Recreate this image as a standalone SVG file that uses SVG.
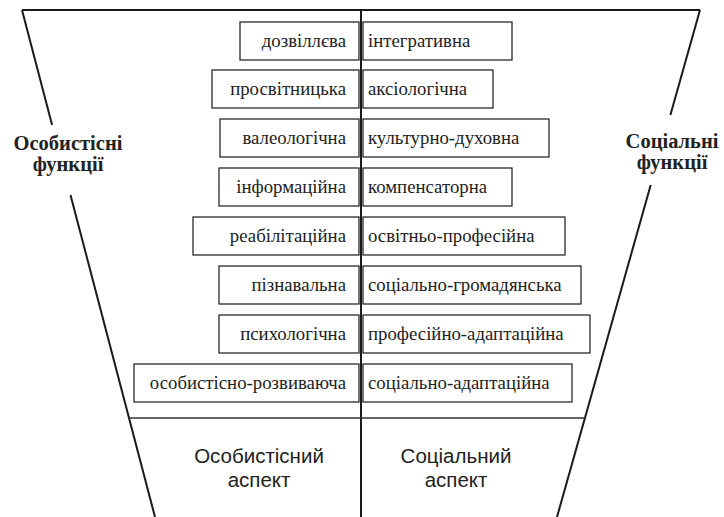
<svg xmlns="http://www.w3.org/2000/svg" width="724" height="517" viewBox="0 0 724 517">
<style>
.frame{stroke:#1a1a1a;stroke-width:2;fill:none;stroke-linecap:butt}
.thin{stroke:#333;stroke-width:1.3;fill:none}
.box{fill:#fff;stroke:#2a2a2a;stroke-width:1.3}
.t{font-family:"Liberation Serif","Times New Roman",serif;font-size:18.8px;fill:#222}
.l{text-anchor:end}
.side{font-family:"Liberation Serif","Times New Roman",serif;font-size:20.5px;font-weight:bold;fill:#222;text-anchor:middle}
.asp{font-family:"Liberation Sans",Arial,sans-serif;font-size:20.5px;fill:#222;text-anchor:middle}
</style>
<rect width="724" height="517" fill="#fff"/>
<g id="connectors">
<line class="frame" x1="22" y1="10" x2="700" y2="10"/>
<line class="frame" x1="22" y1="10" x2="52.1" y2="125"/>
<line class="frame" x1="70.5" y1="195" x2="155" y2="517"/>
<line class="frame" x1="700" y1="10" x2="670.4" y2="115"/>
<line class="frame" x1="650.7" y1="185" x2="557" y2="517"/>
<line class="frame" x1="361" y1="10" x2="361" y2="517"/>
<line class="thin" x1="129" y1="418" x2="585" y2="418"/>
</g>
<g id="n1l"><rect class="box" x="240" y="22" width="119" height="38"/><text class="t l" x="346" y="47">дозвіллєва</text></g>
<g id="n1r"><rect class="box" x="363" y="22" width="149" height="38"/><text class="t" x="368" y="47">інтегративна</text></g>
<g id="n2l"><rect class="box" x="212" y="70" width="147" height="38"/><text class="t l" x="346" y="95">просвітницька</text></g>
<g id="n2r"><rect class="box" x="363" y="70" width="130" height="38"/><text class="t" x="368" y="95">аксіологічна</text></g>
<g id="n3l"><rect class="box" x="220" y="119" width="139" height="38"/><text class="t l" x="346" y="144">валеологічна</text></g>
<g id="n3r"><rect class="box" x="363" y="119" width="186" height="38"/><text class="t" x="368" y="144">культурно-духовна</text></g>
<g id="n4l"><rect class="box" x="219" y="168" width="140" height="38"/><text class="t l" x="346" y="193">інформаційна</text></g>
<g id="n4r"><rect class="box" x="363" y="168" width="149" height="38"/><text class="t" x="368" y="193">компенсаторна</text></g>
<g id="n5l"><rect class="box" x="193" y="217" width="166" height="38"/><text class="t l" x="346" y="242">реабілітаційна</text></g>
<g id="n5r"><rect class="box" x="363" y="217" width="202" height="38"/><text class="t" x="368" y="242">освітньо-професійна</text></g>
<g id="n6l"><rect class="box" x="219" y="266" width="140" height="38"/><text class="t l" x="346" y="291">пізнавальна</text></g>
<g id="n6r"><rect class="box" x="363" y="266" width="218" height="38"/><text class="t" x="368" y="291">соціально-громадянська</text></g>
<g id="n7l"><rect class="box" x="219" y="315" width="140" height="38"/><text class="t l" x="346" y="340">психологічна</text></g>
<g id="n7r"><rect class="box" x="363" y="315" width="227" height="38"/><text class="t" x="368" y="340">професійно-адаптаційна</text></g>
<g id="n8l"><rect class="box" x="134" y="364" width="225" height="38"/><text class="t l" x="346" y="389">особистісно-розвиваюча</text></g>
<g id="n8r"><rect class="box" x="363" y="364" width="209" height="38"/><text class="t" x="368" y="389">соціально-адаптаційна</text></g>
<g id="side-left"><text class="side" x="68" y="150">Особистісні</text><text class="side" x="68" y="171">функції</text></g>
<g id="side-right"><text class="side" x="672" y="148">Соціальні</text><text class="side" x="672" y="169">функції</text></g>
<g id="aspect-left"><text class="asp" x="259" y="463">Особистісний</text><text class="asp" x="259" y="487">аспект</text></g>
<g id="aspect-right"><text class="asp" x="456" y="463">Соціальний</text><text class="asp" x="456" y="487">аспект</text></g>
</svg>
